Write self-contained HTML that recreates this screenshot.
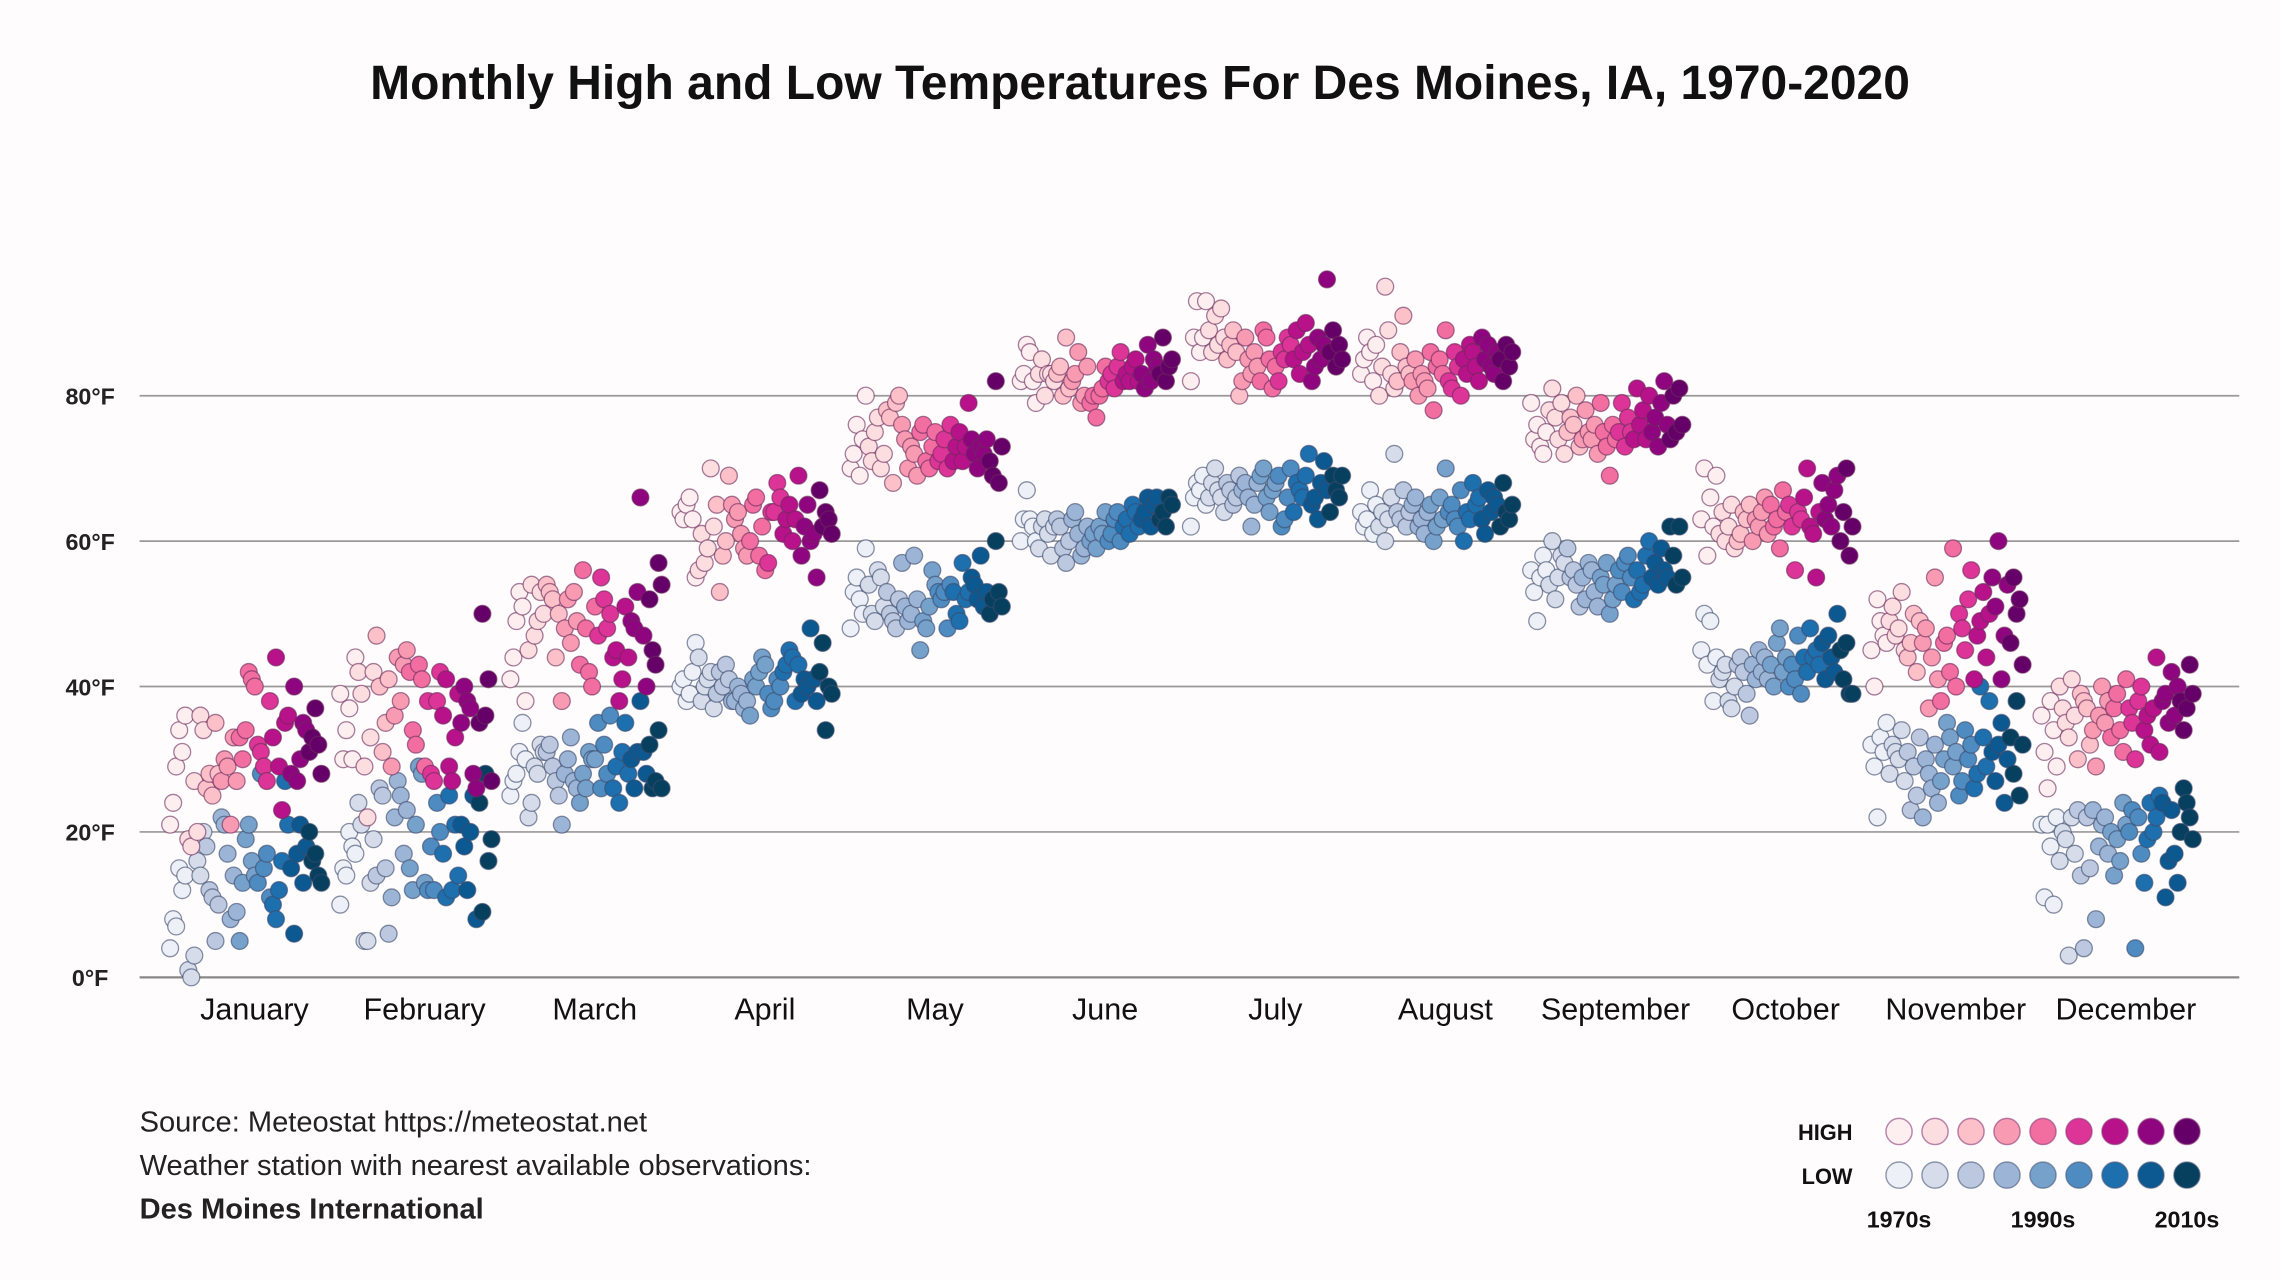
<!DOCTYPE html>
<html><head><meta charset="utf-8"><style>
html,body{margin:0;padding:0;background:#fffcfd;}
svg{display:block;font-family:"Liberation Sans",sans-serif;}
</style></head><body>
<svg id="chart" width="2280" height="1280" viewBox="0 0 1568 880" xmlns="http://www.w3.org/2000/svg">
<rect width="1568" height="880" fill="#fffcfd"/>
<text x="784" y="68" text-anchor="middle" font-size="33" font-weight="bold" fill="#111">Monthly High and Low Temperatures For Des Moines, IA, 1970-2020</text>
<g id="grid"></g><g id="dots"></g>
<g font-size="20" fill="#222">
<text x="96" y="778">Source: Meteostat https://meteostat.net</text>
<text x="96" y="808">Weather station with nearest available observations:</text>
<text x="96" y="838" font-weight="bold">Des Moines International</text>
</g>
<g id="legend"></g>
</svg>
<script>
const months=["January","February","March","April","May","June","July","August","September","October","November","December"];
const yTicks=[0,20,40,60,80];
const decades=["1970s","1990s","2010s"];
const hiJan=[21,24,29,34,31,36,19,18,27,20,36,34,26,28,25,35,28,27,30,29,21,33,27,33,30,34,42,41,40,32,31,29,27,38,33,44,29,23,35,36,28,40,27,30,35,34,31,33,37,32,28];
const loJan=[4,8,7,15,12,14,1,0,3,16,14,20,18,12,11,5,10,22,21,17,8,14,9,5,13,19,21,16,14,13,28,15,17,11,10,8,12,16,27,21,15,6,17,21,13,18,20,16,17,14,13];
const hiFeb=[39,30,34,37,30,44,42,39,29,22,33,42,47,40,31,35,41,29,36,44,38,43,45,42,34,32,43,41,29,38,28,27,38,42,36,41,29,27,33,39,35,40,38,37,28,26,35,50,36,41,27];
const loFeb=[10,15,14,20,18,17,24,21,5,5,13,19,14,26,25,15,6,11,22,27,25,17,23,15,12,21,29,28,13,12,18,12,24,20,17,11,25,12,21,14,21,18,12,20,25,8,24,9,28,16,19];
const hiMar=[41,44,49,53,51,38,45,54,47,49,53,50,54,53,52,44,50,38,48,52,46,53,49,43,56,48,42,40,51,47,55,52,48,50,44,45,38,41,51,44,49,48,53,66,47,40,52,45,43,57,54];
const loMar=[25,27,28,31,35,30,22,24,29,28,32,31,31,32,29,27,25,21,28,30,33,27,26,24,28,26,31,30,30,35,26,32,28,36,26,29,24,31,35,28,30,26,31,38,31,28,32,26,27,34,26];
const hiApr=[64,63,65,66,63,55,56,61,57,59,70,62,65,53,58,60,69,65,63,64,61,59,58,60,65,66,58,62,56,57,64,64,68,66,61,63,65,60,63,69,58,62,65,60,61,55,67,62,64,63,61];
const loApr=[40,41,38,39,42,46,44,38,40,41,42,37,39,42,40,43,41,38,38,40,39,37,38,36,41,40,42,44,43,39,37,38,41,40,42,43,45,44,38,43,39,41,40,48,41,38,42,46,34,40,39];
const hiMay=[70,72,76,69,74,80,73,71,75,77,70,72,78,77,68,79,80,76,74,70,73,72,69,75,76,71,70,73,75,71,72,74,70,76,71,73,75,71,73,79,74,72,70,73,72,74,71,69,82,68,73];
const loMay=[48,53,55,52,50,59,54,50,49,56,55,51,53,50,49,48,52,57,51,49,50,58,52,45,49,48,51,56,54,53,52,53,48,54,53,50,49,57,52,53,55,54,52,58,51,53,50,52,60,53,51];
const hiJun=[82,83,87,86,82,79,83,85,80,83,83,82,83,84,80,88,81,82,83,86,79,80,84,79,80,77,80,81,84,82,83,81,84,86,82,83,82,84,85,82,83,81,87,82,85,84,83,88,82,84,85];
const loJun=[60,63,67,63,62,60,59,62,63,61,58,62,63,62,59,57,60,63,64,61,58,59,62,60,61,59,62,61,64,60,61,63,64,60,62,63,61,65,64,62,63,64,66,62,65,66,63,64,62,66,65];
const hiJul=[82,88,93,86,88,93,89,86,91,87,92,88,85,87,89,86,80,82,88,85,83,86,84,82,89,88,85,81,84,82,86,85,88,87,85,89,83,86,90,87,82,84,88,85,87,96,86,89,84,87,85];
const loJul=[62,66,68,67,69,65,66,68,70,67,66,64,68,67,65,66,69,67,68,66,62,65,68,69,70,66,64,67,68,69,62,63,66,70,64,68,67,66,69,72,65,66,63,68,71,67,64,69,67,66,69];
const hiAug=[83,85,88,86,82,87,80,84,95,89,83,81,82,86,91,84,83,82,85,80,83,82,81,86,78,84,85,83,89,82,81,86,84,80,85,83,87,86,84,82,88,85,87,84,83,86,85,82,87,84,86];
const loAug=[64,62,63,67,61,65,62,64,60,63,66,72,64,63,67,62,64,65,66,62,63,61,64,65,60,62,66,63,70,64,65,63,62,67,60,64,63,68,65,66,63,61,67,64,66,65,62,68,64,63,65];
const hiSep=[79,74,76,73,72,75,78,81,77,74,79,72,75,77,76,80,73,74,78,75,74,76,72,79,75,73,69,76,74,75,79,73,77,75,74,81,76,78,74,80,75,77,73,79,82,76,74,80,75,81,76];
const loSep=[56,53,49,55,58,56,54,60,52,55,58,57,59,55,56,54,51,55,52,57,56,53,51,55,54,57,50,52,54,56,53,57,58,55,52,56,53,54,58,60,55,57,54,59,56,55,62,58,54,62,55];
const hiOct=[63,70,58,66,62,69,61,64,60,62,65,59,60,61,64,63,65,60,63,62,64,66,61,65,62,63,59,67,64,65,62,56,64,63,66,70,62,61,55,64,68,63,65,62,67,69,60,64,70,58,62];
const loOct=[45,50,43,49,38,44,41,42,43,38,37,40,43,44,42,39,36,43,41,45,42,44,41,43,40,46,48,42,44,40,43,41,47,39,44,42,48,44,45,43,46,41,47,44,42,50,45,41,46,39,39];
const hiNov=[45,40,52,49,47,46,49,51,47,48,53,45,44,46,50,42,49,46,48,37,44,55,41,38,46,47,42,59,40,50,48,45,52,56,41,47,49,53,44,50,55,51,60,41,47,54,46,55,50,52,43];
const loNov=[32,29,22,33,31,35,28,32,31,30,34,27,31,23,29,25,33,22,30,28,26,32,24,27,30,35,33,29,31,25,27,34,30,32,26,28,40,33,29,38,31,27,32,35,24,30,33,28,38,25,32];
const hiDec=[36,31,26,38,34,29,40,37,35,33,41,36,30,39,38,37,32,34,29,36,40,35,38,33,37,39,34,31,41,37,35,30,38,40,34,36,32,37,44,31,38,39,35,42,36,40,38,34,37,43,39];
const loDec=[21,11,21,18,10,22,16,20,19,3,22,17,23,14,4,22,15,23,8,18,21,22,17,20,14,19,16,24,21,20,23,4,22,17,13,19,24,20,22,25,24,11,16,23,17,13,20,26,24,22,19];
const highs=[hiJan,hiFeb,hiMar,hiApr,hiMay,hiJun,hiJul,hiAug,hiSep,hiOct,hiNov,hiDec];
const lows=[loJan,loFeb,loMar,loApr,loMay,loJun,loJul,loAug,loSep,loOct,loNov,loDec];
const hiCol=["#fdeef0","#fcdde0","#fbc0c8","#f89bb2","#f26ea1","#dc3597","#b8128a","#8f0580","#650069"];
const loCol=["#eef0f7","#d6dcea","#bcc8df","#9cb5d6","#75a1cb","#4d8bc0","#1e6fae","#0c5890","#07405f"];
const NS="http://www.w3.org/2000/svg";
const ys=t=>672-t*5;
const xMonth=i=>175+i*117;
const xs=(m,yr)=>xMonth(m)-58+yr*2.08;
const grid=document.getElementById('grid');
function mk(tag,attrs,parent){const e=document.createElementNS(NS,tag);for(const k in attrs)e.setAttribute(k,attrs[k]);parent.appendChild(e);return e;}
yTicks.forEach(t=>{
  const l=mk('line',{x1:96,x2:1540,y1:ys(t),y2:ys(t),stroke:t===0?'#888':'#999','stroke-width':t===0?1.5:1.2},grid);
  
  
  const tx=mk('text',{x:62,y:ys(t)+6,'text-anchor':'middle','font-size':16,'font-weight':'bold',fill:'#222'},grid);
  tx.textContent=t+'°F';
  
  
});
months.forEach((m,i)=>{
  const tx=mk('text',{x:xMonth(i),y:701,'text-anchor':'middle','font-size':21,fill:'#111'},grid);
  tx.textContent=m;
  
  
});
const dots=document.getElementById('dots');
function drawSeries(arrs,cols,stroke,kind){
  arrs.forEach((arr,m)=>arr.forEach((v,yr)=>{
    const ci=Math.min(8,Math.floor(yr/51*9));
    const c=mk('circle',{cx:xs(m,yr),cy:ys(v),r:5.8,fill:cols[ci],stroke:stroke,'stroke-width':0.9,'stroke-opacity':0.6},dots);
    
    
  }));
}
drawSeries(lows,loCol,'#3b4a6b','low');
drawSeries(highs,hiCol,'#6b2a5a','high');
const lg=document.getElementById('legend');
[["HIGH",hiCol,784,'#8a3a7a'],["LOW",loCol,814,'#4a5a7a']].forEach(([lab,cols,y,st])=>{
  const t=mk('text',{x:1274,y:y,'text-anchor':'end','font-size':15,'font-weight':'bold',fill:'#111'},lg);
  t.textContent=lab;
  
  
  cols.forEach((c,i)=>{
    const e=mk('circle',{cx:1306+i*24.75,cy:y-6,r:9,fill:c,stroke:st,'stroke-width':1,'stroke-opacity':0.6},lg);
    
    
  });
});
decades.forEach((d,i)=>{
  const t=mk('text',{x:1306+i*99,y:844,'text-anchor':'middle','font-size':16,'font-weight':'bold',fill:'#111'},lg);
  t.textContent=d;
  
  
});
</script>
</body></html>
